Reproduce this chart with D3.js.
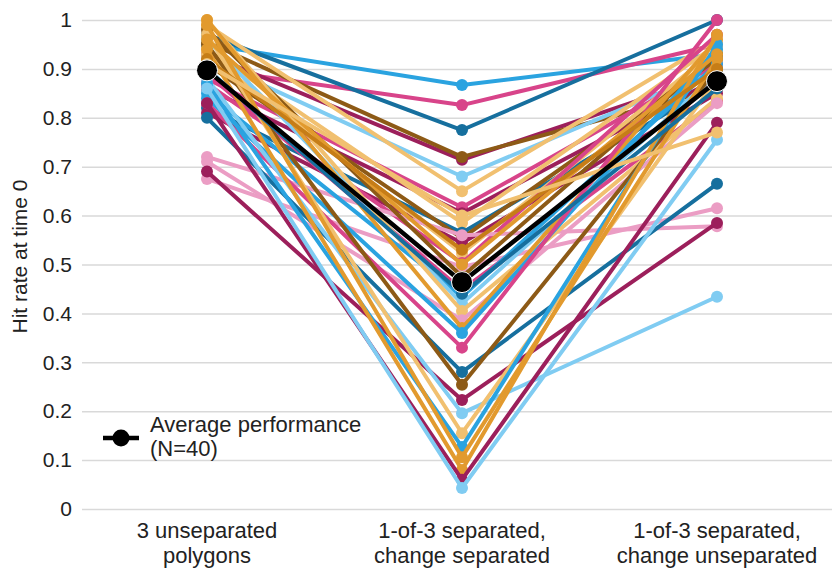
<!DOCTYPE html>
<html>
  <head>
    <meta charset="utf-8">
    <title>Hit rate at time 0</title>
    <style>
      body { margin: 0; background: #fff; }
      text { font-family: "Liberation Sans", Arial, sans-serif; fill: #222; }
    </style>
  </head>
  <body>
    <div id="container"></div>
    <script src="https://cdn.jsdelivr.net/npm/d3@7"></script>
    <script>

      // DATA
      var categories = ["3 unseparated|polygons", "1-of-3 separated,|change separated", "1-of-3 separated,|change unseparated"];
      var yTicks = [0, 0.1, 0.2, 0.3, 0.4, 0.5, 0.6, 0.7, 0.8, 0.9, 1];
      var participantColors = [
        "blue", "pink", "darkblue", "maroon", "brown", "lightblue", "lightorange", "pink", "maroon", "lightorange",
        "darkblue", "brown", "maroon", "lightorange", "pink", "lightpink", "lightpink", "brown", "pink", "blue",
        "lightblue", "lightorange", "lightpink", "orange", "blue", "pink", "darkblue", "brown", "maroon", "lightblue",
        "lightorange", "blue", "orange", "orange", "maroon", "lightblue", "orange", "darkorange", "darkblue", "lightorange"
      ];
      var unseparated = [0.95, 0.90, 0.97, 0.93, 0.955, 0.92, 0.99, 0.88, 0.86, 0.94,
        0.82, 0.91, 0.81, 0.93, 0.87, 0.675, 0.72, 0.98, 0.89, 0.85,
        0.96, 1.0, 0.71, 1.0, 0.84, 0.83, 0.80, 0.95, 0.69, 0.88,
        0.97, 0.87, 0.99, 0.94, 0.83, 0.86, 0.96, 0.92, 0.90, 0.91];
      var changeSeparated = [0.867, 0.826, 0.775, 0.714, 0.72, 0.68, 0.65, 0.617, 0.605, 0.585,
        0.565, 0.554, 0.544, 0.523, 0.503, 0.495, 0.56, 0.475, 0.448, 0.434,
        0.42, 0.405, 0.386, 0.37, 0.36, 0.33, 0.28, 0.254, 0.223, 0.196,
        0.155, 0.127, 0.106, 0.08, 0.06, 0.043, 0.50, 0.53, 0.44, 0.60];
      var changeUnseparated = [0.93, 0.95, 1.0, 0.89, 0.86, 0.90, 0.96, 0.91, 0.88, 0.95,
        0.87, 0.92, 0.85, 0.94, 0.97, 0.615, 0.578, 0.93, 0.835, 0.91,
        0.89, 0.84, 0.83, 0.96, 0.94, 1.0, 0.665, 0.90, 0.585, 0.434,
        0.88, 0.95, 0.92, 0.97, 0.79, 0.755, 0.93, 0.90, 0.86, 0.77];
      var averageValues = [0.897, 0.464, 0.875];

      var palette = {
        blue: "#2aa3e0", darkblue: "#166f9e", lightblue: "#80ccf2",
        pink: "#d8448a", lightpink: "#eb9dc4", maroon: "#9c1f5b",
        orange: "#e29a2e", lightorange: "#f1c070", darkorange: "#c67d17", brown: "#8d5a16"
      };

      var participants = participantColors.map(function (c, i) {
        return { color: palette[c], values: [unseparated[i], changeSeparated[i], changeUnseparated[i]] };
      });

      // SVG
      var width = 832, height = 568;
      var svg = d3.select("#container")
        .append("svg")
        .attr("width", width)
        .attr("height", height);

      var x = d3.scalePoint()
        .domain(categories)
        .range([207, 717]);

      var y = d3.scaleLinear()
        .domain([0, 1])
        .range([509, 20]);

      // GRIDLINES + Y TICKS
      var yAxis = svg.append("g")
        .attr("transform", "translate(82,0)")
        .call(d3.axisLeft(y).tickValues(yTicks).tickSize(-750).tickPadding(10)
          .tickFormat(function (d) { return d === 0 || d === 1 ? d : d3.format(".1f")(d); }));
      yAxis.select(".domain").remove();
      yAxis.selectAll(".tick line").attr("stroke", "#d9d9d9").attr("stroke-width", 1.5);
      yAxis.selectAll(".tick text").style("font-size", "21px").attr("fill", "#222");

      // Y LABEL
      svg.append("text")
        .attr("transform", "translate(27," + (y(0.5) - 8) + ")rotate(-90)")
        .attr("text-anchor", "middle")
        .style("font-size", "21px")
        .text("Hit rate at time 0");

      // X LABELS
      var xl = svg.append("g").selectAll("text")
        .data(categories)
        .enter()
        .append("text")
        .attr("x", function (d) { return x(d); })
        .attr("y", 538)
        .attr("text-anchor", "middle")
        .style("font-size", "22px");
      xl.append("tspan").attr("x", function (d) { return x(d); }).text(function (d) { return d.split("|")[0]; });
      xl.append("tspan").attr("x", function (d) { return x(d); }).attr("dy", 25).text(function (d) { return d.split("|")[1]; });

      // PARTICIPANT LINES
      var line = d3.line()
        .x(function (d, i) { return x(categories[i]); })
        .y(function (d) { return y(d); });

      var groups = svg.append("g").selectAll("g")
        .data(participants)
        .enter()
        .append("g");

      groups.append("path")
        .attr("d", function (d) { return line(d.values); })
        .attr("fill", "none")
        .attr("stroke", function (d) { return d.color; })
        .attr("stroke-width", 4)
        .attr("stroke-linejoin", "round");

      groups.selectAll("circle")
        .data(function (d) { return d.values.map(function (v) { return { v: v, color: d.color }; }); })
        .enter()
        .append("circle")
        .attr("cx", function (d, i) { return x(categories[i]); })
        .attr("cy", function (d) { return y(d.v); })
        .attr("r", 6)
        .attr("fill", function (d) { return d.color; });

      // AVERAGE
      svg.append("path")
        .attr("d", line(averageValues))
        .attr("fill", "none")
        .attr("stroke", "#000")
        .attr("stroke-width", 4.5);

      svg.append("g").selectAll("circle")
        .data(averageValues)
        .enter()
        .append("circle")
        .attr("cx", function (d, i) { return x(categories[i]); })
        .attr("cy", function (d) { return y(d); })
        .attr("r", 10.5)
        .attr("fill", "#000")
        .attr("stroke", "#fff")
        .attr("stroke-width", 1);

      // LEGEND
      var legend = svg.append("g").attr("transform", "translate(103,438)");
      legend.append("line")
        .attr("x1", 0).attr("x2", 36)
        .attr("stroke", "#000").attr("stroke-width", 4.5);
      legend.append("circle")
        .attr("cx", 18).attr("r", 8.5).attr("fill", "#000");
      legend.append("text")
        .attr("x", 47).attr("y", -6)
        .style("font-size", "22px")
        .text("Average performance");
      legend.append("text")
        .attr("x", 47).attr("y", 18)
        .style("font-size", "22px")
        .text("(N=40)");

    </script>
  </body>
</html>
